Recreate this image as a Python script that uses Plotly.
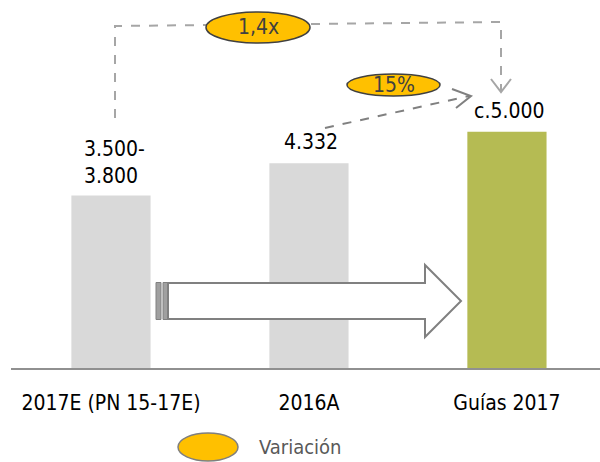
import plotly.graph_objects as go

# ---- data ----
categories = ["2017E (PN 15-17E)", "2016A", "Guías 2017"]
values = [3650, 4332, 5000]          # first bar drawn at range midpoint (3.500-3.800)
value_labels = ["3.500-<br>3.800", "4.332", "c.5.000"]
bar_colors = ["#D9D9D9", "#D9D9D9", "#B5BB53"]
variation_labels = ["1,4x", "15%"]
legend_label = "Variación"

FONT = "DejaVu Sans Condensed, Liberation Sans, Arial, sans-serif"
W, H = 600, 462
L, R, T, B = 11, 0, 0, 94
PW, PH = W - L - R, H - T - B


def px(X):
    return (X - L) / PW


def py(Y):
    return (T + PH - Y) / PH


fig = go.Figure()
fig.add_trace(go.Bar(
    x=categories, y=values, width=0.4,
    marker=dict(color=bar_colors, line=dict(width=0)),
    hoverinfo="skip", showlegend=False,
))

shapes = []
annotations = []

# value labels above bars
for i, (c, v, t) in enumerate(zip(categories, values, value_labels)):
    if i == 0:
        annotations.append(dict(x=c, y=v, xref="x", yref="y", text=t, showarrow=False,
                                xanchor="left", yanchor="bottom", align="left",
                                xshift=-29, yshift=6,
                                font=dict(family=FONT, size=21, color="#000000")))
    else:
        annotations.append(dict(x=c, y=v, xref="x", yref="y", text=t, showarrow=False,
                                xanchor="center", yanchor="bottom",
                                xshift=2, yshift=7,
                                font=dict(family=FONT, size=21, color="#000000")))

# dashed connector 1 (2017E -> Guías)
def path(points):
    return "M " + " L ".join(f"{px(a)},{py(b)}" for a, b in points)

shapes.append(dict(type="path", xref="paper", yref="paper",
                   path=path([(115, 118), (115, 26), (501, 22), (501, 91)]),
                   line=dict(color="#A6A6A6", width=2, dash="dash")))
shapes.append(dict(type="path", xref="paper", yref="paper",
                   path=path([(491, 79), (501, 92), (511, 79)]),
                   line=dict(color="#A6A6A6", width=2)))
# dashed connector 2 (2016A -> Guías)
shapes.append(dict(type="path", xref="paper", yref="paper",
                   path=path([(325, 128), (469, 96)]),
                   line=dict(color="#808080", width=2, dash="dash")))
shapes.append(dict(type="path", xref="paper", yref="paper",
                   path=path([(452, 89), (471, 96), (456, 108)]),
                   line=dict(color="#808080", width=2)))

# ellipses with variation labels
for (cx, cy, w, h), lab in zip([(258, 27.5, 104, 31), (393.5, 85, 93, 22)], variation_labels):
    shapes.append(dict(type="circle", xref="paper", yref="paper",
                       x0=px(cx - w / 2), x1=px(cx + w / 2), y0=py(cy + h / 2), y1=py(cy - h / 2),
                       fillcolor="#FFC000", line=dict(color="#404040", width=1.5)))
    annotations.append(dict(x=px(cx), y=py(cy), xref="paper", yref="paper", text=lab,
                            showarrow=False, xanchor="center", yanchor="middle",
                            font=dict(family=FONT, size=21, color="#404040")))

# big block arrow
shapes.append(dict(type="path", xref="paper", yref="paper",
                   path=path([(168, 283), (425, 283), (425, 265), (461, 301),
                              (425, 337), (425, 319), (168, 319)]) + " Z",
                   fillcolor="#FFFFFF", line=dict(color="#808080", width=2)))
for x0, x1 in [(156, 161), (163, 167.5)]:
    shapes.append(dict(type="rect", xref="paper", yref="paper",
                       x0=px(x0), x1=px(x1), y0=py(319.5), y1=py(282.5),
                       fillcolor="#A0A0A0", line=dict(color="#808080", width=1)))

# legend
shapes.append(dict(type="circle", xref="paper", yref="paper",
                   x0=px(178), x1=px(238), y0=py(461), y1=py(433),
                   fillcolor="#FFC000", line=dict(color="#7F7F7F", width=1.5)))
annotations.append(dict(x=px(257), y=py(447), xref="paper", yref="paper", text=legend_label,
                        showarrow=False, xanchor="left", yanchor="middle",
                        font=dict(family=FONT, size=20, color="#595959")))

fig.update_layout(
    width=W, height=H,
    margin=dict(l=L, r=R, t=T, b=B, pad=0),
    paper_bgcolor="white", plot_bgcolor="white",
    shapes=shapes, annotations=annotations,
    showlegend=False,
    bargap=0.6,
    xaxis=dict(type="category", range=[-0.505, 2.47], showline=True,
               linecolor="#909090", linewidth=2, showgrid=False, zeroline=False,
               ticks="", ticklabelstandoff=15,
               tickfont=dict(family=FONT, size=21, color="#000000"),
               fixedrange=True),
    yaxis=dict(range=[0, 7787], visible=False, showgrid=False, zeroline=False,
               fixedrange=True),
)

fig.write_html("out.html", config={"displayModeBar": False},
               post_script="document.body.style.margin='0';document.body.style.overflow='hidden';")
